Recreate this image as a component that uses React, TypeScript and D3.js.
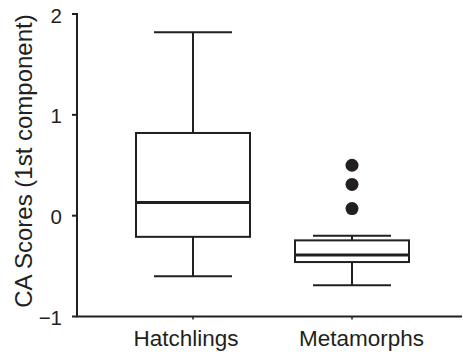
import React from "react";
import * as d3 from "d3";

const categories = ["Hatchlings", "Metamorphs"];
const labelShift = [-7, 9.5];
const whiskerLow = [-0.6, -0.69];
const q1 = [-0.21, -0.46];
const median = [0.13, -0.39];
const q3 = [0.82, -0.245];
const whiskerHigh = [1.82, -0.2];
const outliers: number[][] = [[], [0.5, 0.31, 0.07]];
const yTicks = [-1, 0, 1, 2];

const W = 463;
const H = 354;
const ink = "#231f20";

export default function App() {
  const axisX = 77;
  const y = d3.scaleLinear().domain([-1, 2]).range([316.5, 14]);
  const axisY = y(-1);
  const x = d3.scalePoint<string>().domain(categories).range([193, 352]);
  const boxW = 114;
  const capW = 78;
  const fmt = (v: number) => (v < 0 ? "\u2212" + Math.abs(v) : String(v));

  return (
    <svg width={W} height={H} style={{ position: "absolute", left: 0, top: 0 }} fontFamily="Liberation Sans, Arial, sans-serif">
      <rect width={W} height={H} fill="#fff" />
      {/* y axis */}
      <line x1={axisX} x2={axisX} y1={y(2) - 1} y2={axisY} stroke={ink} strokeWidth={2} />
      {yTicks.map((t) => (
        <g key={t}>
          <line x1={axisX - 5} x2={axisX} y1={y(t)} y2={y(t)} stroke={ink} strokeWidth={2} />
          <text x={62} y={y(t)} dy="0.42em" textAnchor="end" fontSize={20.5} fill={ink}>
            {fmt(t)}
          </text>
        </g>
      ))}
      {/* x axis */}
      <line x1={axisX - 1} x2={462} y1={axisY} y2={axisY} stroke={ink} strokeWidth={2} />
      {categories.map((c, i) => (
        <g key={c}>
          <line x1={x(c)} x2={x(c)} y1={axisY} y2={axisY + 3} stroke={ink} strokeWidth={1.5} />
          <text x={x(c)! + labelShift[i]} y={346} textAnchor="middle" fontSize={22.5} fill={ink}>
            {c}
          </text>
        </g>
      ))}
      <text
        transform={`translate(32,161) rotate(-90)`}
        textAnchor="middle"
        fontSize={24}
        fill={ink}
      >
        CA Scores (1st component)
      </text>
      {/* boxes */}
      {categories.map((c, i) => {
        const cx = x(c)!;
        return (
          <g key={c} stroke={ink} fill="none">
            <line x1={cx} x2={cx} y1={y(whiskerHigh[i])} y2={y(q3[i])} strokeWidth={2} />
            <line x1={cx} x2={cx} y1={y(q1[i])} y2={y(whiskerLow[i])} strokeWidth={2} />
            <line x1={cx - capW / 2} x2={cx + capW / 2} y1={y(whiskerHigh[i])} y2={y(whiskerHigh[i])} strokeWidth={2} />
            <line x1={cx - capW / 2} x2={cx + capW / 2} y1={y(whiskerLow[i])} y2={y(whiskerLow[i])} strokeWidth={2} />
            <rect x={cx - boxW / 2} y={y(q3[i])} width={boxW} height={y(q1[i]) - y(q3[i])} strokeWidth={2} fill="#fff" />
            <line x1={cx - boxW / 2} x2={cx + boxW / 2} y1={y(median[i])} y2={y(median[i])} strokeWidth={3} />
            {outliers[i].map((o, j) => (
              <circle key={j} cx={cx} cy={y(o)} r={6.5} fill={ink} stroke="none" />
            ))}
          </g>
        );
      })}
    </svg>
  );
}
